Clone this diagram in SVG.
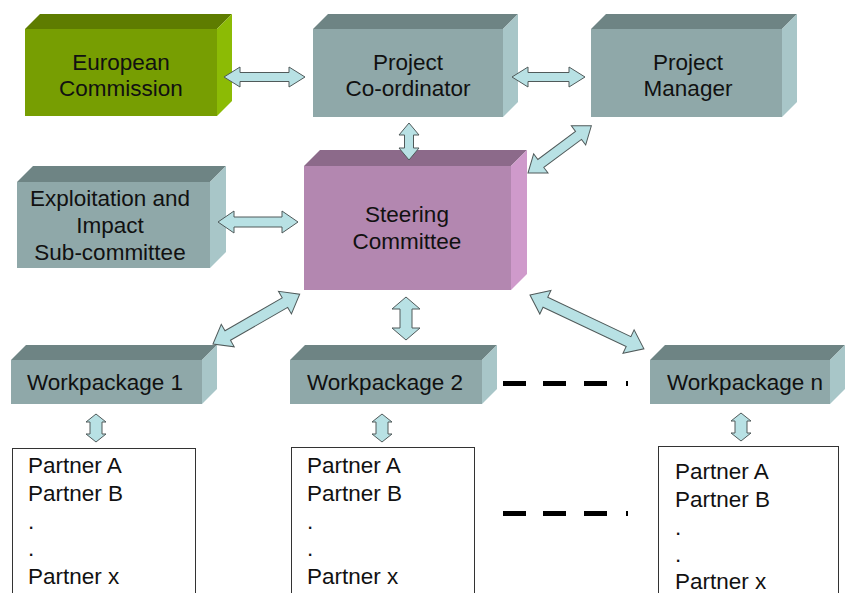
<svg xmlns="http://www.w3.org/2000/svg" width="845" height="593" viewBox="0 0 845 593">
  <style>
    text { font-family: "Liberation Sans", Arial, sans-serif; font-size: 22.5px; fill: #111; }
    .c { text-anchor: middle; }
    .g-front { fill: #779e02; } .g-top { fill: #5e7c00; } .g-side { fill: #8cbb05; }
    .t-front { fill: #8fa8a9; } .t-top { fill: #6e8484; } .t-side { fill: #a8c6c8; }
    .p-front { fill: #b387b0; } .p-top { fill: #8c6a8a; } .p-side { fill: #cf9acb; }
    .arrow { fill: #b8e1e4; stroke: #505a5a; stroke-width: 1; stroke-linejoin: miter; }
    .list { fill: #fff; stroke: #333; stroke-width: 1; }
    .dash { fill: #000; }
  </style>

  <!-- top row -->
  <g id="european-commission">
    <polygon class="g-top" points="25,29 40,14 232,14 217,29"/>
    <polygon class="g-side" points="217,29 232,14 232,101 217,116"/>
    <rect class="g-front" x="25" y="29" width="192" height="87"/>
    <text class="c" x="121" y="70">European</text>
    <text class="c" x="121" y="96">Commission</text>
  </g>
  <g id="project-coordinator">
    <polygon class="t-top" points="313,29 328,14 518,14 503,29"/>
    <polygon class="t-side" points="503,29 518,14 518,102 503,117"/>
    <rect class="t-front" x="313" y="29" width="190" height="88"/>
    <text class="c" x="408" y="70">Project</text>
    <text class="c" x="408" y="96">Co-ordinator</text>
  </g>
  <g id="project-manager">
    <polygon class="t-top" points="591,29 606,14 797,14 782,29"/>
    <polygon class="t-side" points="782,29 797,14 797,102 782,117"/>
    <rect class="t-front" x="591" y="29" width="191" height="88"/>
    <text class="c" x="688" y="70">Project</text>
    <text class="c" x="688" y="96">Manager</text>
  </g>

  <!-- middle row -->
  <g id="exploitation-subcommittee">
    <polygon class="t-top" points="17,182 33,166 226,166 210,182"/>
    <polygon class="t-side" points="210,182 226,166 226,252 210,268"/>
    <rect class="t-front" x="17" y="182" width="193" height="86"/>
    <text class="c" x="110" y="206">Exploitation and</text>
    <text class="c" x="110" y="233">Impact</text>
    <text class="c" x="110" y="260">Sub-committee</text>
  </g>
  <g id="steering-committee">
    <polygon class="p-top" points="304,166 320,150 527,150 511,166"/>
    <polygon class="p-side" points="511,166 527,150 527,274 511,290"/>
    <rect class="p-front" x="304" y="166" width="207" height="124"/>
    <text class="c" x="407" y="222">Steering</text>
    <text class="c" x="407" y="249">Committee</text>
  </g>

  <!-- workpackages -->
  <g id="workpackage-1">
    <polygon class="t-top" points="11,360 26,345 217,345 202,360"/>
    <polygon class="t-side" points="202,360 217,345 217,389 202,404"/>
    <rect class="t-front" x="11" y="360" width="191" height="44"/>
    <text class="c" x="105" y="390">Workpackage 1</text>
  </g>
  <g id="workpackage-2">
    <polygon class="t-top" points="290,360 305,345 497,345 482,360"/>
    <polygon class="t-side" points="482,360 497,345 497,389 482,404"/>
    <rect class="t-front" x="290" y="360" width="192" height="44"/>
    <text class="c" x="385" y="390">Workpackage 2</text>
  </g>
  <g id="workpackage-n">
    <polygon class="t-top" points="650,360 665,345 845,345 830,360"/>
    <polygon class="t-side" points="830,360 845,345 845,389 830,404"/>
    <rect class="t-front" x="650" y="360" width="180" height="44"/>
    <text class="c" x="745" y="390">Workpackage n</text>
  </g>

  <!-- partner lists -->
  <g id="partners-1">
    <rect class="list" x="12.5" y="448.5" width="183" height="160"/>
    <text x="28" y="473">Partner A</text>
    <text x="28" y="501">Partner B</text>
    <text x="28" y="529">.</text>
    <text x="28" y="556">.</text>
    <text x="28" y="584">Partner x</text>
  </g>
  <g id="partners-2">
    <rect class="list" x="291.5" y="447.5" width="183" height="160"/>
    <text x="307" y="473">Partner A</text>
    <text x="307" y="501">Partner B</text>
    <text x="307" y="529">.</text>
    <text x="307" y="556">.</text>
    <text x="307" y="584">Partner x</text>
  </g>
  <g id="partners-n">
    <rect class="list" x="658.5" y="446.5" width="180" height="160"/>
    <text x="675" y="479">Partner A</text>
    <text x="675" y="507">Partner B</text>
    <text x="675" y="535">.</text>
    <text x="675" y="562">.</text>
    <text x="675" y="589">Partner x</text>
  </g>

  <!-- ellipsis dashes -->
  <g id="ellipsis">
    <rect class="dash" x="503" y="381" width="23" height="5"/>
    <rect class="dash" x="543" y="381" width="23" height="5"/>
    <rect class="dash" x="584" y="381" width="23" height="5"/>
    <rect class="dash" x="626" y="381" width="2" height="5"/>
    <rect class="dash" x="503" y="511" width="23" height="5"/>
    <rect class="dash" x="543" y="511" width="23" height="5"/>
    <rect class="dash" x="584" y="511" width="23" height="5"/>
    <rect class="dash" x="626" y="511" width="2" height="5"/>
  </g>

  <!-- double-headed block arrows, drawn along x then placed -->
  <g id="connectors">
    <!-- European Commission <-> Project Co-ordinator -->
    <path class="arrow" transform="translate(224,77)" d="M0,0 L16,-10 L16,-4.5 L65,-4.5 L65,-10 L81,0 L65,10 L65,4.5 L16,4.5 L16,10 Z"/>
    <!-- Project Co-ordinator <-> Project Manager -->
    <path class="arrow" transform="translate(512,77)" d="M0,0 L16,-10 L16,-4.5 L57,-4.5 L57,-10 L73,0 L57,10 L57,4.5 L16,4.5 L16,10 Z"/>
    <!-- Project Co-ordinator <-> Steering Committee -->
    <path class="arrow" transform="translate(409,123) rotate(90)" d="M0,0 L12,-10 L12,-4.5 L25,-4.5 L25,-10 L37,0 L25,10 L25,4.5 L12,4.5 L12,10 Z"/>
    <!-- Project Manager <-> Steering Committee -->
    <path class="arrow" transform="translate(528,173) rotate(-36.7)" d="M0,0 L16,-12 L16,-5 L63,-5 L63,-12 L79,0 L63,12 L63,5 L16,5 L16,12 Z"/>
    <!-- Exploitation <-> Steering Committee -->
    <path class="arrow" transform="translate(218,222)" d="M0,0 L16,-11 L16,-5 L64,-5 L64,-11 L80,0 L64,11 L64,5 L16,5 L16,11 Z"/>
    <!-- Steering Committee <-> Workpackage 1 -->
    <path class="arrow" transform="translate(213,344) rotate(-29.9)" d="M0,0 L17,-13 L17,-5.5 L83,-5.5 L83,-13 L100,0 L83,13 L83,5.5 L17,5.5 L17,13 Z"/>
    <!-- Steering Committee <-> Workpackage 2 -->
    <path class="arrow" transform="translate(406,297) rotate(90)" d="M0,0 L12,-14 L12,-6 L31,-6 L31,-14 L43,0 L31,14 L31,6 L12,6 L12,14 Z"/>
    <!-- Steering Committee <-> Workpackage n -->
    <path class="arrow" transform="translate(530,295) rotate(25.3)" d="M0,0 L17,-13 L17,-5.5 L109,-5.5 L109,-13 L126,0 L109,13 L109,5.5 L17,5.5 L17,13 Z"/>
    <!-- Workpackages <-> partner lists -->
    <path class="arrow" transform="translate(96,414) rotate(90)" d="M0,0 L8,-10 L8,-6 L20,-6 L20,-10 L28,0 L20,10 L20,6 L8,6 L8,10 Z"/>
    <path class="arrow" transform="translate(382,414) rotate(90)" d="M0,0 L8,-10 L8,-6 L20,-6 L20,-10 L28,0 L20,10 L20,6 L8,6 L8,10 Z"/>
    <path class="arrow" transform="translate(741,413) rotate(90)" d="M0,0 L8,-10 L8,-6 L20,-6 L20,-10 L28,0 L20,10 L20,6 L8,6 L8,10 Z"/>
  </g>
</svg>
